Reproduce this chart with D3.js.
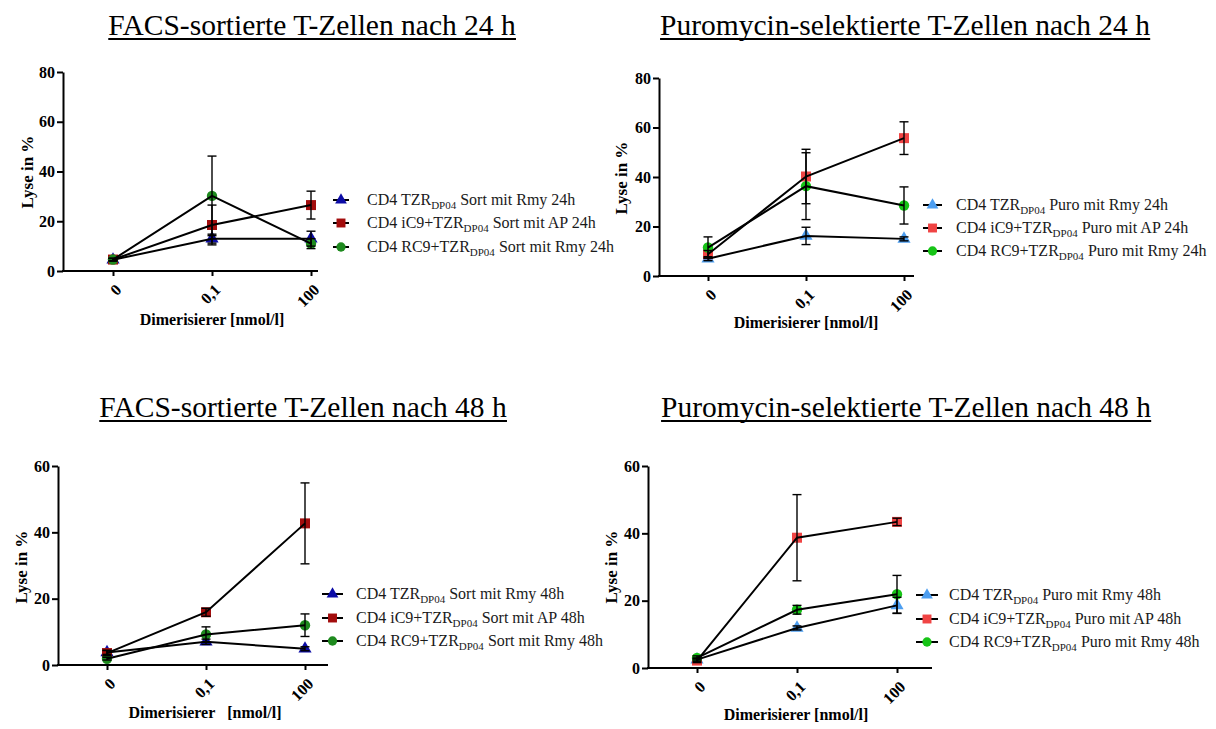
<!DOCTYPE html>
<html>
<head>
<meta charset="utf-8">
<script src="https://cdn.jsdelivr.net/npm/d3@7"></script>
<style>
  html, body { margin: 0; padding: 0; background: #ffffff; }
  svg { display: block; }
  text { font-family: "Liberation Serif", "Times New Roman", serif; }
</style>
</head>
<body>
<svg id="chart" width="1216" height="729"></svg>
<script>
// Dimerizer concentrations (x categories)
const doses = ["0", "0,1", "100"];

// Y tick labels per panel row
const ticks80 = [0, 20, 40, 60, 80];
const ticks60 = [0, 20, 40, 60];

// FACS-sorted, 24 h (mean, SD)
const sort24Tzr = [4.5, 13.0, 13.0];
const sort24TzrSd = [0.5, 1.8, 3.0];
const sort24Ic9 = [4.6, 18.5, 26.5];
const sort24Ic9Sd = [0.5, 8.0, 5.6];
const sort24Rc9 = [4.6, 30.2, 11.0];
const sort24Rc9Sd = [0.5, 16.0, 2.0];

// Puromycin-selected, 24 h
const puro24Tzr = [7.0, 16.2, 15.0];
const puro24TzrSd = [0.8, 3.5, 0.8];
const puro24Ic9 = [8.8, 40.2, 55.7];
const puro24Ic9Sd = [1.5, 11.0, 6.6];
const puro24Rc9 = [11.5, 36.3, 28.5];
const puro24Rc9Sd = [4.3, 13.5, 7.5];

// FACS-sorted, 48 h
const sort48Tzr = [3.8, 7.0, 4.9];
const sort48TzrSd = [0.6, 0.8, 0.6];
const sort48Ic9 = [3.6, 15.9, 42.7];
const sort48Ic9Sd = [0.8, 1.2, 12.2];
const sort48Rc9 = [1.9, 9.2, 12.0];
const sort48Rc9Sd = [0.4, 2.3, 3.4];

// Puromycin-selected, 48 h
const puro48Tzr = [2.5, 11.9, 18.6];
const puro48TzrSd = [0.5, 0.6, 2.4];
const puro48Ic9 = [2.2, 38.7, 43.4];
const puro48Ic9Sd = [0.6, 12.8, 1.1];
const puro48Rc9 = [3.0, 17.3, 21.9];
const puro48Rc9Sd = [0.6, 1.3, 5.6];

// Panel titles and legend entries (main text, subscript, tail)
const titles = [
  "FACS-sortierte T-Zellen nach 24 h",
  "Puromycin-selektierte T-Zellen nach 24 h",
  "FACS-sortierte T-Zellen nach 48 h",
  "Puromycin-selektierte T-Zellen nach 48 h"
];
const legendSort24 = [["CD4 TZR", "DP04", " Sort mit Rmy 24h"], ["CD4 iC9+TZR", "DP04", " Sort mit AP 24h"], ["CD4 RC9+TZR", "DP04", " Sort mit Rmy 24h"]];
const legendPuro24 = [["CD4 TZR", "DP04", " Puro mit Rmy 24h"], ["CD4 iC9+TZR", "DP04", " Puro mit AP 24h"], ["CD4 RC9+TZR", "DP04", " Puro mit Rmy 24h"]];
const legendSort48 = [["CD4 TZR", "DP04", " Sort mit Rmy 48h"], ["CD4 iC9+TZR", "DP04", " Sort mit AP 48h"], ["CD4 RC9+TZR", "DP04", " Sort mit Rmy 48h"]];
const legendPuro48 = [["CD4 TZR", "DP04", " Puro mit Rmy 48h"], ["CD4 iC9+TZR", "DP04", " Puro mit AP 48h"], ["CD4 RC9+TZR", "DP04", " Puro mit Rmy 48h"]];

const darkColors = ["#0c0ca6", "#a30d0d", "#1e8a1e"];
const lightColors = ["#4d9ef0", "#f04444", "#17c417"];
const shapes = [d3.symbolTriangle, d3.symbolSquare, d3.symbolCircle];
const shapeSizes = [75, 100, 85];

const svg = d3.select("#chart");

const panels = [
  { title: titles[0], tcx: 312, tby: 35, x0: 63, yTop: 72, yBot: 271, xs: [113, 311], xEnd: 318, yMax: 80, ticks: ticks80,
    series: [[sort24Tzr, sort24TzrSd], [sort24Ic9, sort24Ic9Sd], [sort24Rc9, sort24Rc9Sd]], colors: darkColors,
    legend: legendSort24, lgX: [333, 349], lgText: 367, lgRows: [200, 223, 247],
    ylab: [27, 172], xlab: [212, 325], xlabText: "Dimerisierer [nmol/l]" },
  { title: titles[1], tcx: 905, tby: 35, x0: 659, yTop: 78, yBot: 276, xs: [708, 904], xEnd: 914, yMax: 80, ticks: ticks80,
    series: [[puro24Tzr, puro24TzrSd], [puro24Ic9, puro24Ic9Sd], [puro24Rc9, puro24Rc9Sd]], colors: lightColors,
    legend: legendPuro24, lgX: [923, 942], lgText: 956, lgRows: [205, 228, 251],
    ylab: [621, 178], xlab: [806, 328], xlabText: "Dimerisierer [nmol/l]" },
  { title: titles[2], tcx: 303, tby: 417, x0: 58, yTop: 466, yBot: 665, xs: [107, 305], xEnd: 328, yMax: 60, ticks: ticks60,
    series: [[sort48Tzr, sort48TzrSd], [sort48Ic9, sort48Ic9Sd], [sort48Rc9, sort48Rc9Sd]], colors: darkColors,
    legend: legendSort48, lgX: [322, 343], lgText: 356, lgRows: [594, 618, 641],
    ylab: [21, 567], xlab: [205, 718], xlabText: "Dimerisierer\u00a0\u00a0 [nmol/l]" },
  { title: titles[3], tcx: 906, tby: 417, x0: 648, yTop: 466, yBot: 668, xs: [697, 897], xEnd: 932, yMax: 60, ticks: ticks60,
    series: [[puro48Tzr, puro48TzrSd], [puro48Ic9, puro48Ic9Sd], [puro48Rc9, puro48Rc9Sd]], colors: lightColors,
    legend: legendPuro48, lgX: [916, 938], lgText: 949, lgRows: [595, 619, 642],
    ylab: [611, 567], xlab: [796, 720], xlabText: "Dimerisierer [nmol/l]" }
];

panels.forEach(p => drawPanel(p));

function drawPanel(p) {
  const g = svg.append("g");
  const x = d3.scalePoint().domain(doses).range(p.xs);
  const y = d3.scaleLinear().domain([0, p.yMax]).range([p.yBot, p.yTop]);

  // Title with underline
  const t = g.append("text")
    .attr("x", p.tcx).attr("y", p.tby)
    .attr("text-anchor", "middle")
    .attr("font-size", 29.5)
    .attr("fill", "#000")
    .text(p.title);
  const bb = t.node().getBBox();
  g.append("line")
    .attr("x1", bb.x).attr("x2", bb.x + bb.width)
    .attr("y1", p.tby + 4).attr("y2", p.tby + 4)
    .attr("stroke", "#000").attr("stroke-width", 1.8);

  // Y axis
  const yAxis = g.append("g")
    .attr("transform", `translate(${p.x0},0)`)
    .call(d3.axisLeft(y).tickValues(p.ticks).tickSize(6).tickSizeOuter(0).tickPadding(2).tickFormat(d3.format("d")));
  yAxis.select(".domain").attr("stroke-width", 2).attr("stroke", "#000");
  yAxis.selectAll(".tick line").attr("stroke-width", 2).attr("stroke", "#000");
  yAxis.selectAll(".tick text")
    .attr("font-family", "Liberation Serif, Times New Roman, serif")
    .attr("font-size", 16).attr("font-weight", "bold").attr("fill", "#000");

  // X axis (category points), baseline drawn from the y axis to the right end
  const xAxis = g.append("g")
    .attr("transform", `translate(0,${p.yBot})`)
    .call(d3.axisBottom(x).tickSize(5).tickSizeOuter(0));
  xAxis.select(".domain").remove();
  xAxis.selectAll(".tick line").attr("stroke-width", 2).attr("stroke", "#000");
  xAxis.selectAll(".tick text")
    .attr("font-family", "Liberation Serif, Times New Roman, serif")
    .attr("font-size", 16).attr("font-weight", "bold").attr("fill", "#000")
    .attr("text-anchor", "end")
    .attr("x", 0).attr("y", 0).attr("dy", "0.35em")
    .attr("transform", "translate(5,16) rotate(-45)");
  g.append("line")
    .attr("x1", p.x0 - 1).attr("x2", p.xEnd)
    .attr("y1", p.yBot).attr("y2", p.yBot)
    .attr("stroke", "#000").attr("stroke-width", 2);

  // Axis titles
  g.append("text")
    .attr("transform", `translate(${p.ylab[0]},${p.ylab[1]}) rotate(-90)`)
    .attr("text-anchor", "middle").attr("dy", "0.35em")
    .attr("font-size", 17).attr("font-weight", "bold")
    .text("Lyse in %");
  g.append("text")
    .attr("x", p.xlab[0]).attr("y", p.xlab[1])
    .attr("text-anchor", "middle")
    .attr("font-size", 16).attr("font-weight", "bold")
    .text(p.xlabText);

  // Symbols
  p.series.forEach((s, i) => {
    g.append("g").selectAll("path")
      .data(s[0])
      .join("path")
      .attr("d", d3.symbol().type(shapes[i]).size(shapeSizes[i]))
      .attr("transform", (d, j) => `translate(${x(doses[j])},${y(d)})`)
      .attr("fill", p.colors[i]);
  });

  // Connecting lines and SD error bars
  const line = d3.line().x((d, j) => x(doses[j])).y(d => y(d));
  p.series.forEach((s, i) => {
    g.append("path")
      .datum(s[0])
      .attr("d", line)
      .attr("fill", "none").attr("stroke", "#000").attr("stroke-width", 2);
    const eb = g.append("g").attr("stroke", "#000").attr("stroke-width", 1.4);
    s[0].forEach((v, j) => {
      const cx = x(doses[j]);
      const lo = y(v - s[1][j]), hi = y(v + s[1][j]);
      eb.append("line").attr("x1", cx).attr("x2", cx).attr("y1", lo).attr("y2", hi);
      eb.append("line").attr("x1", cx - 4.5).attr("x2", cx + 4.5).attr("y1", lo).attr("y2", lo);
      eb.append("line").attr("x1", cx - 4.5).attr("x2", cx + 4.5).attr("y1", hi).attr("y2", hi);
    });
  });

  // Legend
  p.legend.forEach((entry, i) => {
    const cy = p.lgRows[i];
    g.append("line")
      .attr("x1", p.lgX[0]).attr("x2", p.lgX[1])
      .attr("y1", cy).attr("y2", cy)
      .attr("stroke", "#000").attr("stroke-width", 2);
    g.append("path")
      .attr("d", d3.symbol().type(shapes[i]).size(shapeSizes[i] * 0.8))
      .attr("transform", `translate(${(p.lgX[0] + p.lgX[1]) / 2},${cy})`)
      .attr("fill", p.colors[i]);
    const txt = g.append("text")
      .attr("x", p.lgText).attr("y", cy + 5)
      .attr("font-size", 16).attr("fill", "#1a1a1a");
    txt.append("tspan").text(entry[0]);
    txt.append("tspan").attr("font-size", 11).attr("dy", 4).text(entry[1]);
    txt.append("tspan").attr("dy", -4).text(entry[2]);
  });
}
</script>
</body>
</html>
